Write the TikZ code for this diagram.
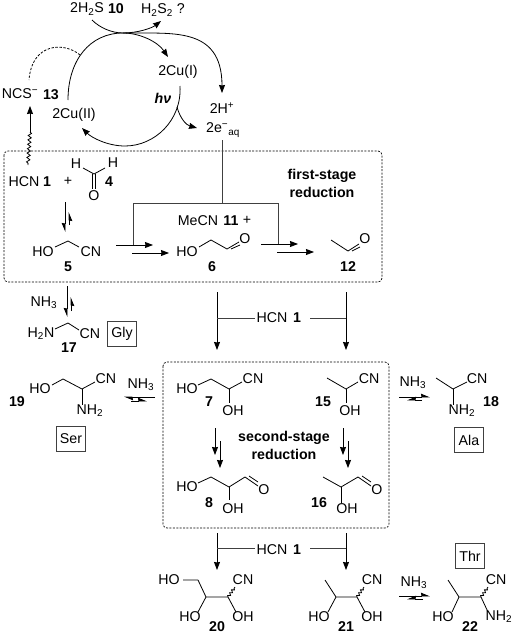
\documentclass[tikz,border=0pt]{standalone}
\usepackage{fontspec}
\setmainfont{Liberation Sans}
\usetikzlibrary{arrows.meta}
\usetikzlibrary{decorations.pathmorphing}
\tikzset{
  lab/.style={inner sep=1pt,font=\fontsize{14.2}{16}\selectfont},
  num/.style={inner sep=1pt,font=\fontsize{14.2}{16}\selectfont\bfseries},
  stage/.style={inner sep=1pt,font=\fontsize{14.2}{18}\selectfont\bfseries,align=center},
  bond/.style={line width=0.8pt,line join=round},
  wavy/.style={line width=0.8pt,decorate,decoration={snake,amplitude=1.2pt,segment length=3.4pt}},
  tip/.style={line width=0.8pt,-{Stealth[length=8pt,width=6pt,inset=0.5pt]}},
  half/.style={line width=0.8pt,-{Stealth[harpoon,length=8pt,width=6.5pt,inset=0.5pt]}},
  halfswap/.style={line width=0.8pt,-{Stealth[harpoon,swap,length=8pt,width=6.5pt,inset=0.5pt]}},
  line/.style={line width=0.9pt,draw=black!75},
  stagebox/.style={line width=0.7pt,dash pattern=on 2pt off 1.4pt,rounded corners=4pt},
  aminobox/.style={draw=black!75,line width=0.8pt,inner sep=0pt,minimum width=29pt,minimum height=25pt,font=\fontsize{14.2}{16}\selectfont},
}
\begin{document}
\begin{tikzpicture}[x=1pt,y=-1pt]
    \useasboundingbox (0,0) rectangle (514,634);
    % redox cycle
    \node[lab] (hs) at (87,9) {2H\textsubscript{2}S};
    \node[num] (n10) at (116,9) {10};
    \node[lab] (hss) at (163,10) {H\textsubscript{2}S\textsubscript{2} ?};
    \node[lab] (cuI) at (178,72) {2Cu(I)};
    \node[lab] (cuII) at (74,115) {2Cu(II)};
    \node[lab,font=\fontsize{14.2}{16}\selectfont\bfseries\itshape] (hv) at (163,98) {\textit{hν}};
    \node[lab] (ncs) at (20,94) {NCS\textsuperscript{−}};
    \node[num] (n13) at (51,95) {13};
    \node[lab] (hplus) at (222,108) {2H\textsuperscript{+}};
    \node[lab] (eaq) at (223,130) {2e\textsuperscript{−}\textsubscript{aq}};
    \coordinate (top) at (123,33);
    \coordinate (split) at (177,107);
    \draw[tip] (92,20) .. controls (100,28) and (112,33) .. (top) .. controls (138,33) and (152,28) .. (161,21);
    \draw[tip] (68,100) .. controls (68,60) and (90,33) .. (top) .. controls (140,33) and (158,42) .. (168,57);
    \draw[tip] (top) .. controls (170,34) and (222,25) .. (222,93);
    \draw[tip] (180,86) .. controls (182,120) and (155,146) .. (125,146) .. controls (108,146) and (92,138) .. (82,128);
    \draw[tip] (split) .. controls (180,118) and (186,125) .. (197,128);
    \draw[bond,dash pattern=on 2.4pt off 1.6pt] (80,55) .. controls (65,42) and (32,42) .. (29,80);
    \draw[tip] (30,132) -- (30,106);
    \draw[wavy,decoration={amplitude=1.6pt,segment length=4.4pt}] (30,132) -- (28,165);
    % first-stage reduction
    \draw[stagebox] (4,151) rectangle (382,282);
    \node[stage] (first) at (322,183) {first-stage\\reduction};
    \node[lab] (hcn) at (24,182) {HCN};
    \node[num] (n1) at (47,182) {1};
    \node[lab] (plus) at (68,181) {+};
    \node[lab] (ha) at (76,164) {H};
    \node[lab] (hb) at (113,163) {H};
    \node[lab] (oa) at (94,196) {O};
    \node[num] (n4) at (109,182) {4};
    \draw[bond] (83,168) -- (94,174) -- (105,168);
    \draw[bond] (92.5,174) -- (92.5,189) (95.5,174) -- (95.5,189);
    \draw[halfswap] (65,202) -- (65,232);
    \draw[halfswap] (69,225) -- (69,212);
    \node[lab] (ho5) at (43,252) {HO};
    \node[lab] (cn5) at (91,252) {CN};
    \node[num] (n5) at (68,267) {5};
    \draw[bond] (55,247) -- (68,241) -- (79,247);
    \node[lab] (ho6) at (187,252) {HO};
    \node[lab] (o6) at (245,239) {O};
    \node[num] (n6) at (212,267) {6};
    \node[lab] (mecn) at (198,221) {MeCN};
    \node[num] (n11) at (231,221) {11};
    \node[lab] (plusb) at (247,220) {+};
    \draw[bond] (199,247) -- (211,240) -- (227,249) -- (239,242);
    \draw[bond] (231,249) -- (240,245);
    \node[lab] (o12) at (365,239) {O};
    \node[num] (n12) at (348,267) {12};
    \draw[bond] (331,240) -- (348,251) -- (359,244);
    \draw[bond] (352,251) -- (360,247);
    % hydrated electrons feed the two reductions
    \coordinate (feed) at (222,203);
    \coordinate (feedl) at (133,203);
    \coordinate (feedr) at (278,203);
    \draw[line] (222,140) -- (feed);
    \draw[line] (133,245) -- (feedl) -- (feedr) -- (278,244);
    \draw[tip] (116,245) -- (153,245);
    \draw[tip] (132,253) -- (169,253);
    \draw[tip] (261,244) -- (298,244);
    \draw[tip] (277,252) -- (314,252);
    % glycine branch
    \draw[halfswap] (67,286) -- (67,317);
    \draw[halfswap] (71,311) -- (71,297);
    \node[lab] (nh17) at (44,303) {NH\textsubscript{3}};
    \node[lab] (hn17) at (41,334) {H\textsubscript{2}N};
    \node[lab] (cn17) at (90,334) {CN};
    \node[num] (n17) at (69,348) {17};
    \draw[bond] (55,329) -- (68,323) -- (79,330);
    \node[aminobox] (gly) at (122,334) {Gly};
    % HCN addition, upper
    \node[lab] (hcnb) at (272,318) {HCN};
    \node[num] (n1b) at (297,318) {1};
    \coordinate (ja) at (217,318);
    \coordinate (jb) at (346,318);
    \draw[tip] (217,292) -- (217,350);
    \draw[tip] (346,292) -- (346,350);
    \draw[line] (ja) -- (hcnb.west);
    \draw[line] (n1b.east) ++(8,0) -- (jb);
    % second-stage reduction
    \draw[stagebox] (163,362) rectangle (389,528);
    \node[stage] (second) at (284,445) {second-stage\\reduction};
    \node[lab] (ho7) at (187,389) {HO};
    \node[lab] (cn7) at (253,379) {CN};
    \node[lab] (oh7) at (233,411) {OH};
    \node[num] (n7) at (209,402) {7};
    \draw[bond] (198,385) -- (211,379) -- (229,389) -- (242,382);
    \draw[bond] (229,389) -- (229,403);
    \draw[tip] (215,428) -- (215,455);
    \draw[tip] (220,441) -- (220,468);
    \node[lab] (ho8) at (187,487) {HO};
    \node[lab] (oh8) at (233,509) {OH};
    \node[lab] (o8) at (264,490) {O};
    \node[num] (n8) at (209,503) {8};
    \draw[bond] (198,483) -- (211,477) -- (229,487) -- (245,477) -- (258,486);
    \draw[bond] (249,476) -- (258,482);
    \draw[bond] (229,487) -- (229,500);
    \node[lab] (cn15) at (369,379) {CN};
    \node[lab] (oh15) at (350,411) {OH};
    \node[num] (n15) at (323,402) {15};
    \draw[bond] (327,378) -- (346,389) -- (358,382);
    \draw[bond] (346,389) -- (346,403);
    \draw[tip] (343,428) -- (343,455);
    \draw[tip] (348,441) -- (348,468);
    \node[lab] (oh16) at (347,509) {OH};
    \node[lab] (o16) at (377,490) {O};
    \node[num] (n16) at (319,503) {16};
    \draw[bond] (323,477) -- (341,487) -- (358,477) -- (371,486);
    \draw[bond] (362,476) -- (371,482);
    \draw[bond] (341,487) -- (341,503);
    % serine
    \node[lab] (ho19) at (40,389) {HO};
    \node[lab] (cn19) at (106,379) {CN};
    \node[lab] (nh19) at (90,411) {NH\textsubscript{2}};
    \node[num] (n19) at (17,402) {19};
    \draw[bond] (52,385) -- (63,379) -- (82,389) -- (95,382);
    \draw[bond] (82,389) -- (82,405);
    \node[aminobox] (ser) at (71,439) {Ser};
    \node[lab] (nh3a) at (141,385) {NH\textsubscript{3}};
    \draw[half] (155,397) -- (124,397);
    \draw[half] (131,401) -- (147,401);
    % alanine
    \node[lab] (nh3b) at (413,383) {NH\textsubscript{3}};
    \draw[half] (399,397) -- (430,397);
    \draw[halfswap] (422,400) -- (407,400);
    \node[lab] (cn18) at (477,379) {CN};
    \node[lab] (nh18) at (462,411) {NH\textsubscript{2}};
    \node[num] (n18) at (491,402) {18};
    \draw[bond] (436,378) -- (453,389) -- (467,382);
    \draw[bond] (453,389) -- (453,405);
    \node[aminobox] (ala) at (469,440) {Ala};
    % HCN addition, lower
    \node[lab] (hcnc) at (272,550) {HCN};
    \node[num] (n1c) at (297,550) {1};
    \coordinate (jc) at (217,548);
    \coordinate (jd) at (346,548);
    \draw[tip] (217,533) -- (217,570);
    \draw[tip] (346,533) -- (346,570);
    \draw[line] (jc) -- (hcnc.west |- jc);
    \draw[line] (n1c.east |- jd) ++(8,0) -- (jd);
    % chain-extended nitriles
    \node[lab] (ho20) at (169,580) {HO};
    \node[lab] (cn20) at (243,580) {CN};
    \node[lab] (hob20) at (190,617) {HO};
    \node[lab] (oh20) at (243,617) {OH};
    \node[num] (n20) at (217,627) {20};
    \draw[bond] (183,580) -- (198,580) -- (206,597) -- (228,597) (206,597) -- (198,612) (228,597) -- (236,612);
    \draw[wavy] (228,597) -- (235,587);
    \node[lab] (cn21) at (372,580) {CN};
    \node[lab] (ho21) at (319,617) {HO};
    \node[lab] (oh21) at (372,617) {OH};
    \node[num] (n21) at (346,627) {21};
    \draw[bond] (325,580) -- (336,597) -- (357,597) (336,597) -- (328,612) (357,597) -- (365,612);
    \draw[wavy] (357,597) -- (364,587);
    \node[lab] (nh3c) at (414,583) {NH\textsubscript{3}};
    \draw[half] (399,596) -- (430,596);
    \draw[halfswap] (423,599) -- (407,599);
    \node[lab] (cn22) at (496,580) {CN};
    \node[lab] (ho22) at (443,617) {HO};
    \node[lab] (nh22) at (499,617) {NH\textsubscript{2}};
    \node[num] (n22) at (470,627) {22};
    \draw[bond] (448,580) -- (459,597) -- (481,597) (459,597) -- (452,612) (481,597) -- (488,612);
    \draw[wavy] (481,597) -- (488,587);
    \node[aminobox] (thr) at (470,556) {Thr};
\end{tikzpicture}
\end{document}
